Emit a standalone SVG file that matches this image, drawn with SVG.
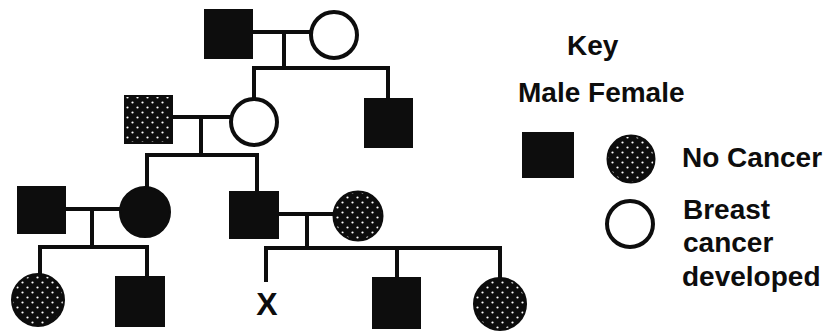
<svg xmlns="http://www.w3.org/2000/svg" width="829" height="331" viewBox="0 0 829 331">
<style>
.solid{fill:#0d0d0d;stroke:#0d0d0d;stroke-width:2}
.stip{fill:url(#dots);stroke:#0d0d0d;stroke-width:2}
.open{fill:#fff;stroke:#0d0d0d;stroke-width:4}
.ln{fill:none;stroke:#0d0d0d;stroke-width:4;stroke-linecap:square}
text{font-family:"Liberation Sans",Arial,sans-serif;font-weight:bold;fill:#0d0d0d}
.k{font-size:28px}
</style>
<defs>
<pattern id="dots" width="10" height="10" patternUnits="userSpaceOnUse">
<rect width="10" height="10" fill="#0d0d0d"/>
<circle cx="2.5" cy="2.5" r="1.1" fill="#fff"/>
<circle cx="7.5" cy="7.5" r="1.1" fill="#fff"/>
</pattern>
</defs>
<rect width="829" height="331" fill="#fff"/>
<g id="connectors">
<path class="ln" d="M252 32H310M284 32V68M254 68H388M254 68V98M388 68V99"/>
<path class="ln" d="M172 117H230M201 117V155M147 155H257M147 155V187M257 155V192"/>
<path class="ln" d="M65 209H119M92 209V247M40 247H147M40 247V273M147 247V277"/>
<path class="ln" d="M278 214H333M307 214V248M266 248H500M266 248V280M397 248V278M500 248V278"/>
</g>
<g id="g1-male"><rect class="solid" x="205" y="10" width="47" height="48"/></g>
<g id="g1-female"><circle class="open" cx="334" cy="35" r="23"/></g>
<g id="g2-husband"><rect class="stip" x="125" y="96" width="47" height="47"/></g>
<g id="g2-female"><circle class="open" cx="254" cy="122" r="23"/></g>
<g id="g2-male"><rect class="solid" x="365" y="99" width="47" height="48"/></g>
<g id="g3-husband"><rect class="solid" x="18" y="187" width="47" height="46"/></g>
<g id="g3-female"><circle class="solid" cx="145" cy="212" r="25"/></g>
<g id="g3-male"><rect class="solid" x="230" y="192" width="48" height="46"/></g>
<g id="g3-wife"><circle class="stip" cx="358" cy="216" r="24.5"/></g>
<g id="g4-female1"><circle class="stip" cx="38" cy="300" r="26"/></g>
<g id="g4-male1"><rect class="solid" x="116" y="277" width="48" height="49"/></g>
<g id="g4-x"><text x="267" y="315" font-size="32" text-anchor="middle">X</text></g>
<g id="g4-male2"><rect class="solid" x="373" y="278" width="47" height="50"/></g>
<g id="g4-female2"><circle class="stip" cx="500" cy="304" r="26"/></g>
<g id="key">
<text class="k" x="567" y="55">Key</text>
<text class="k" x="518" y="102">Male Female</text>
<rect class="solid" x="523" y="133" width="50" height="44"/>
<circle class="stip" cx="631" cy="159" r="23.5"/>
<text class="k" x="682" y="167">No Cancer</text>
<circle class="open" cx="630" cy="224" r="23"/>
<text class="k" x="683" y="219">Breast</text>
<text class="k" x="683" y="252">cancer</text>
<text class="k" x="682" y="286">developed</text>
</g>
</svg>
